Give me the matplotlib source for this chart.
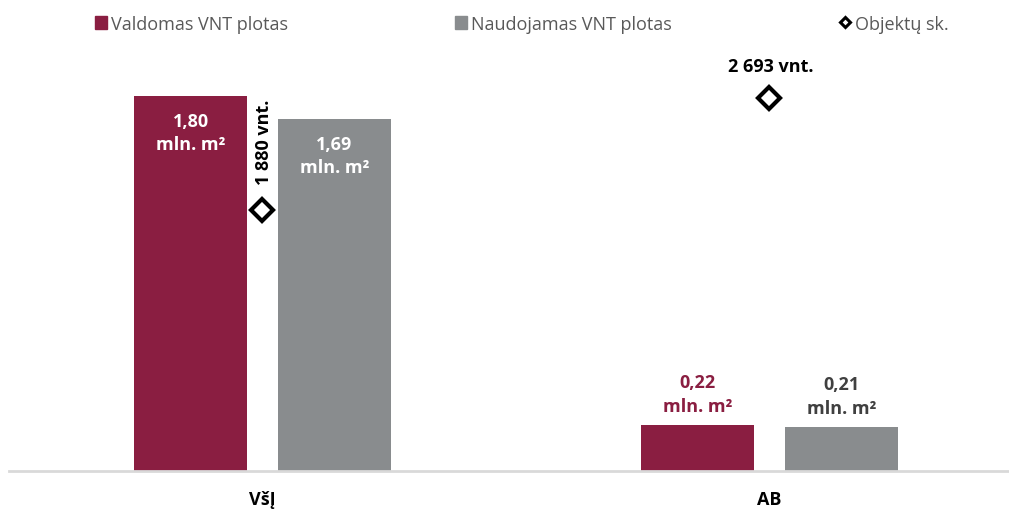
import matplotlib
matplotlib.use('Agg')
import matplotlib.pyplot as plt
from matplotlib.lines import Line2D
from matplotlib.patches import Patch

plt.rcParams['font.family'] = ['Open Sans', 'DejaVu Sans']

# data
categories = ['VšĮ', 'AB']
valdomas = [1.80, 0.22]
naudojamas = [1.69, 0.21]
objektai = [1880, 2693]
valdomas_lbl = ['1,80\nmln. m²', '0,22\nmln. m²']
naudojamas_lbl = ['1,69\nmln. m²', '0,21\nmln. m²']
objektai_lbl = ['1 880 vnt.', '2 693 vnt.']

RED = '#8A1E41'
GREY = '#898C8E'

fig = plt.figure(figsize=(10.09, 5.10), dpi=100)
ax = fig.add_axes([9 / 1009, 38 / 510, 1000 / 1009, 432 / 510])
ax2 = ax.twinx()

x = list(range(len(categories)))
off = 0.142
w = 0.223
ax.bar([i - off for i in x], valdomas, w, color=RED, zorder=2)
ax.bar([i + off for i in x], naudojamas, w, color=GREY, zorder=2)

ax.set_xlim(-0.5, 1.4724)
ax.set_ylim(0, 2.074)
ax2.set_ylim(0, 3115)

# bar labels: inside (white) for tall bars, above (coloured) for short ones
for i in x:
    for xv, v, lbl, dark in [(i - off, valdomas[i], valdomas_lbl[i], RED),
                             (i + off, naudojamas[i], naudojamas_lbl[i], '#404040')]:
        if v > 1:
            ax.text(xv, v - 0.075, lbl, ha='center', va='top', color='white',
                    fontsize=13, fontweight='bold', linespacing=1.4)
        else:
            ax.text(xv, v + 0.05, lbl, ha='center', va='bottom', color=dark,
                    fontsize=13, fontweight='bold', linespacing=1.4)

# objects count on secondary axis
ax2.plot(x, objektai, linestyle='none', marker='D', markersize=11,
         markerfacecolor='white', markeredgecolor='black', markeredgewidth=3, zorder=3)
ax2.text(x[0] + 0.002, objektai[0] + 190, objektai_lbl[0], rotation=90, ha='center',
         va='bottom', fontsize=13, fontweight='bold')
ax2.text(x[1] + 0.002, objektai[1] + 160, objektai_lbl[1], ha='center', va='bottom',
         fontsize=13, fontweight='bold')

for a in (ax, ax2):
    for s in a.spines.values():
        s.set_visible(False)
    a.set_yticks([])
ax.spines['bottom'].set_visible(True)
ax.spines['bottom'].set_color('#D9D9D9')
ax.spines['bottom'].set_linewidth(2)
ax.set_xticks(x)
ax.set_xticklabels(categories, fontsize=13, fontweight='bold')
ax.tick_params(axis='x', length=0, pad=14)

handles = [Patch(color=RED, label='Valdomas VNT plotas'),
           Patch(color=GREY, label='Naudojamas VNT plotas'),
           Line2D([], [], linestyle='none', marker='D', markersize=5, markerfacecolor='white',
                  markeredgecolor='black', markeredgewidth=2.2, label='Objektų sk.')]
fig.legend(handles=handles, loc='upper center', bbox_to_anchor=(0.517, 1.001), ncol=3,
           frameon=False, fontsize=13, handlelength=0.7, handleheight=0.7,
           handletextpad=0.2, columnspacing=9.25, labelcolor='#595959')

plt.savefig('out.png', dpi=100)
plt.close()
